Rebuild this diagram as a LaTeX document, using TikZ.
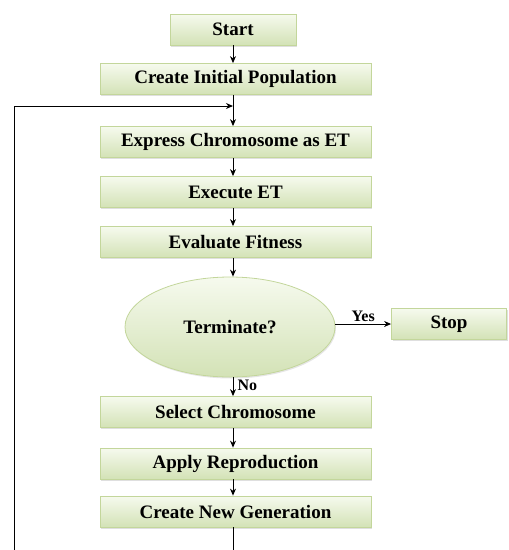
\documentclass[tikz,border=0pt]{standalone}
\usepackage{fontspec}
\setmainfont{Liberation Serif}
\usetikzlibrary{arrows.meta,shapes.geometric,shadows}
\definecolor{boxedge}{HTML}{C3D69B}
\definecolor{boxbot}{HTML}{D3E2B6}
\definecolor{boxtop}{HTML}{F6FAEE}
\tikzset{
  box/.style={rectangle, draw=boxedge, line width=0.8pt, top color=boxtop, bottom color=boxbot,
    minimum height=31pt, inner sep=0pt, font=\bfseries\fontsize{19}{21}\selectfont,
    drop shadow={shadow xshift=1pt, shadow yshift=-1.5pt, fill=black!25}},
  oval/.style={ellipse, draw=boxedge, line width=0.8pt, top color=boxtop, bottom color=boxbot,
    minimum width=210pt, minimum height=100pt, inner sep=0pt, font=\bfseries\fontsize{19}{21}\selectfont,
    drop shadow={shadow xshift=1pt, shadow yshift=-1.5pt, fill=black!20}},
  conn/.style={draw=black, line width=1pt, -{Stealth[length=7pt,width=6pt]}},
  lbl/.style={font=\bfseries\fontsize{16}{18}\selectfont, inner sep=1pt}
}
\begin{document}
\begin{tikzpicture}[x=1pt,y=-1pt]
\useasboundingbox (0,0) rectangle (509,550);
\clip (0,0) rectangle (509,550);
\node[box, minimum width=126pt] (start) at (233,29.5) {Start};
\node[box, minimum width=271pt] (init) at (235.5,79) {Create Initial Population};
\node[box, minimum width=271pt] (expr) at (235.5,142) {Express Chromosome as ET};
\node[box, minimum width=271pt] (exec) at (235.5,192) {Execute ET};
\node[box, minimum width=271pt] (eval) at (235.5,242) {Evaluate Fitness};
\node[oval] (term) at (230,327) {Terminate?};
\node[box, minimum width=115pt] (stop) at (449,324) {Stop};
\node[box, minimum width=271pt] (sel) at (235.5,412) {Select Chromosome};
\node[box, minimum width=271pt] (rep) at (235.5,463.5) {Apply Reproduction};
\node[box, minimum width=271pt] (gen) at (235.5,511.5) {Create New Generation};
\coordinate (merge) at (233,106);
\coordinate (bot) at (233,560);
\coordinate (botleft) at (14,560);
\draw[conn] (start.south -| 233,0) -- (init.north -| 233,0);
\draw[conn] (init.south -| 233,0) -- (expr.north -| 233,0);
\draw[conn] (expr.south -| 233,0) -- (exec.north -| 233,0);
\draw[conn] (exec.south -| 233,0) -- (eval.north -| 233,0);
\draw[conn] (eval.south -| 233,0) -- (term.north -| 233,0);
\draw[conn] (term.east |- stop.west) -- node[lbl, above, yshift=1pt] {Yes} (stop.west);
\draw[conn] (term.south -| 233,0) -- node[lbl, right, xshift=3pt, yshift=1pt] {No} (sel.north -| 233,0);
\draw[conn] (sel.south -| 233,0) -- (rep.north -| 233,0);
\draw[conn] (rep.south -| 233,0) -- (gen.north -| 233,0);
\draw[conn] (gen.south -| 233,0) -- (bot) -- (botleft) -- (14,106) -- (merge);
\end{tikzpicture}
\end{document}
